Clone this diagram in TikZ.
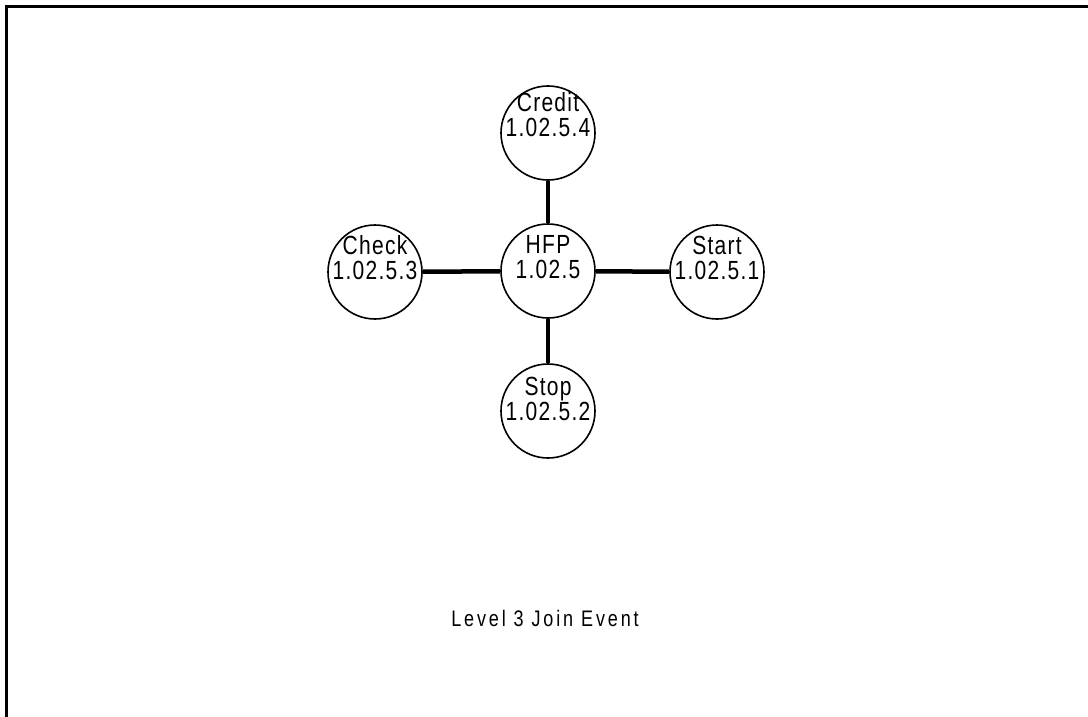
\documentclass[tikz,border=0pt]{standalone}
\usepackage{fontspec}
\setmainfont{Liberation Sans}[LetterSpace=6]
\newfontfamily\titlefont{Liberation Sans}[LetterSpace=16]
\newcommand{\talltext}[1]{\scalebox{1}[1.25]{#1}}
\begin{document}
\begin{tikzpicture}[x=1pt,y=-1pt,
  circ/.style={circle,draw,line width=1.6pt,minimum size=94pt,inner sep=0pt},
  lbl/.style={align=center,font=\fontsize{21}{25}\selectfont,inner sep=0pt},
  conn/.style={line width=4.5pt}]
\useasboundingbox (0,0) rectangle (1088,717);
\coordinate (tl) at (6,7);
\coordinate (tr) at (1088,7);
\coordinate (bl) at (6,717);
\draw[line width=3pt] (tr) -- (tl) -- (bl);
\node[circ] (credit) at (548,133) {};
\node[circ] (hfp) at (548,271) {};
\node[circ] (check) at (375,272) {};
\node[circ] (start) at (717,272) {};
\node[circ] (stop) at (548,411) {};
\node[lbl] (tcredit) at ([yshift=18pt]credit.center) {\talltext{Credit}\\\talltext{1.02.5.4}};
\node[lbl] (thfp) at ([yshift=14pt]hfp.center) {\talltext{HFP}\\\talltext{1.02.5}};
\node[lbl] (tcheck) at ([yshift=14pt]check.center) {\talltext{Check}\\\talltext{1.02.5.3}};
\node[lbl] (tstart) at ([yshift=14pt]start.center) {\talltext{Start}\\\talltext{1.02.5.1}};
\node[lbl] (tstop) at ([yshift=12pt]stop.center) {\talltext{Stop}\\\talltext{1.02.5.2}};
\draw[conn] (credit) -- (hfp);
\draw[conn] (stop) -- (hfp);
\draw[conn] (check) -- (hfp);
\draw[conn] (start) -- (hfp);
\node[font=\titlefont\fontsize{18}{21}\selectfont,inner sep=0pt] (title) at (545,618) {\talltext{Level 3 Join Event}};
\end{tikzpicture}
\end{document}
